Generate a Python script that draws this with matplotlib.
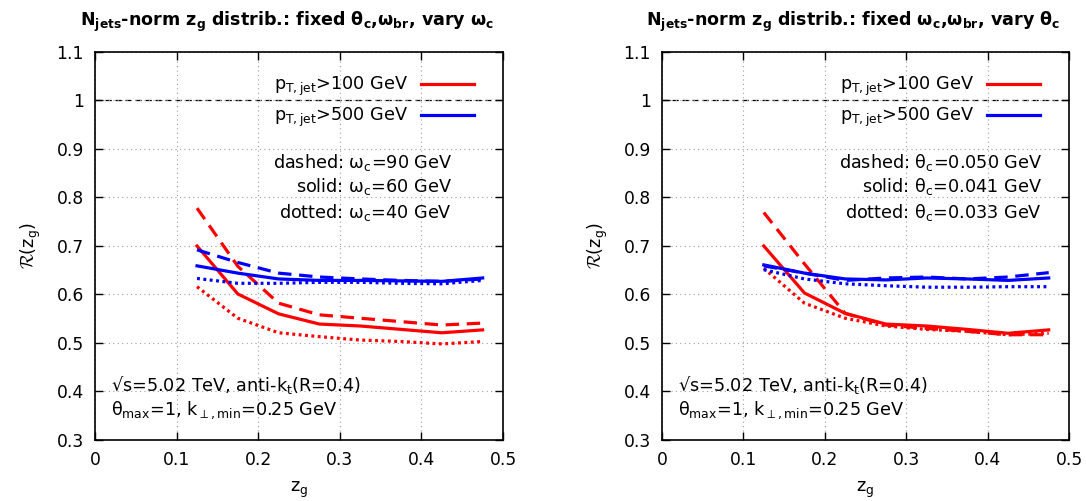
import matplotlib
matplotlib.use('Agg')
import matplotlib.pyplot as plt
from matplotlib.ticker import FuncFormatter

plt.rcParams['font.family'] = 'DejaVu Sans'
plt.rcParams['font.size'] = 12
plt.rcParams['mathtext.fontset'] = 'dejavusans'
plt.rcParams['mathtext.default'] = 'regular'

# z_g bin centres
zg = [0.125, 0.175, 0.225, 0.275, 0.325, 0.375, 0.425, 0.475]

# left panel: fixed theta_c, omega_br, vary omega_c
l_r100_dashed = [0.778, 0.658, 0.582, 0.558, 0.551, 0.544, 0.537, 0.541]
l_r100_solid = [0.700, 0.601, 0.560, 0.539, 0.535, 0.528, 0.521, 0.527]
l_r100_dotted = [0.616, 0.551, 0.521, 0.513, 0.506, 0.503, 0.498, 0.503]
l_b500_dashed = [0.692, 0.666, 0.644, 0.636, 0.632, 0.629, 0.627, 0.632]
l_b500_solid = [0.659, 0.644, 0.632, 0.629, 0.629, 0.628, 0.627, 0.634]
l_b500_dotted = [0.633, 0.623, 0.623, 0.625, 0.625, 0.623, 0.622, 0.629]

# right panel: fixed omega_c, omega_br, vary theta_c
r_r100_dashed = [0.769, 0.663, 0.561, 0.537, 0.530, 0.524, 0.517, 0.517]
r_r100_solid = [0.700, 0.603, 0.561, 0.539, 0.535, 0.528, 0.520, 0.527]
r_r100_dotted = [0.654, 0.582, 0.551, 0.535, 0.528, 0.524, 0.517, 0.520]
r_b500_dashed = [0.659, 0.644, 0.629, 0.634, 0.636, 0.632, 0.636, 0.645]
r_b500_solid = [0.661, 0.644, 0.632, 0.630, 0.634, 0.632, 0.629, 0.634]
r_b500_dotted = [0.651, 0.632, 0.622, 0.618, 0.615, 0.615, 0.616, 0.616]

left_labels = ['dashed: $\\omega_c$=90 GeV', 'solid: $\\omega_c$=60 GeV', 'dotted: $\\omega_c$=40 GeV']
right_labels = ['dashed: $\\theta_c$=0.050 GeV', 'solid: $\\theta_c$=0.041 GeV', 'dotted: $\\theta_c$=0.033 GeV']

titles = [r'$\mathbf{N_{jets}}$-norm $\mathbf{z_g}$ distrib.: fixed $\mathbf{\theta_c}$,$\mathbf{\omega_{br}}$, vary $\mathbf{\omega_c}$',
          r'$\mathbf{N_{jets}}$-norm $\mathbf{z_g}$ distrib.: fixed $\mathbf{\omega_c}$,$\mathbf{\omega_{br}}$, vary $\mathbf{\theta_c}$']

RED = '#ff0000'
BLUE = '#0000ff'
LW = 2.3
DASH = (4.2, 2.4)
DOT = (0.9, 1.1)
FS = 12.7

fig = plt.figure(figsize=(10.86, 5.01), dpi=100)
ax1 = fig.add_axes([0.0875, 0.1218, 0.3757, 0.7745])
ax2 = fig.add_axes([0.6096, 0.1218, 0.3748, 0.7745])

panels = [
    (ax1, l_r100_dashed, l_r100_solid, l_r100_dotted, l_b500_dashed, l_b500_solid, l_b500_dotted, left_labels, titles[0], 0.4375),
    (ax2, r_r100_dashed, r_r100_solid, r_r100_dotted, r_b500_dashed, r_b500_solid, r_b500_dotted, right_labels, titles[1], 0.4668),
]

for ax, rd, rs, rdo, bd, bs, bdo, labs, title, xr in panels:
    ax.axhline(1.0, color='black', lw=0.9, dashes=(5, 3), zorder=1)
    h1, = ax.plot(zg, rs, color=RED, lw=LW, label='p$_{T,jet}$>100 GeV')
    ax.plot(zg, rd, color=RED, lw=LW, dashes=DASH)
    ax.plot(zg, rdo, color=RED, lw=LW, dashes=DOT)
    h2, = ax.plot(zg, bs, color=BLUE, lw=LW, label='p$_{T,jet}$>500 GeV')
    ax.plot(zg, bd, color=BLUE, lw=LW, dashes=DASH)
    ax.plot(zg, bdo, color=BLUE, lw=LW, dashes=DOT)

    ax.set_xlim(0, 0.5)
    ax.set_ylim(0.3, 1.1)
    ax.set_xticks([0, 0.1, 0.2, 0.3, 0.4, 0.5])
    ax.set_yticks([0.3, 0.4, 0.5, 0.6, 0.7, 0.8, 0.9, 1.0, 1.1])
    fmt = FuncFormatter(lambda v, p: '%g' % round(v, 3))
    ax.xaxis.set_major_formatter(fmt)
    ax.yaxis.set_major_formatter(fmt)
    ax.tick_params(direction='in', top=True, right=True, length=6, width=1, labelsize=12.3, pad=8)
    ax.grid(True, color='#a0a0a0', lw=0.8, ls=(0, (1, 3)))
    for s in ax.spines.values():
        s.set_linewidth(1.2)

    ax.legend(handles=[h1, h2], loc='upper right', bbox_to_anchor=(0.945, 0.96),
              frameon=False, markerfirst=False, handlelength=3.0, handletextpad=0.7,
              labelspacing=0.45, borderaxespad=0, fontsize=FS)

    for lab, yv in zip(labs, [0.873, 0.822, 0.770]):
        ax.text(xr, yv, lab, ha='right', va='center', fontsize=FS)
    ax.text(0.0196, 0.413, '√s=5.02 TeV, anti-k$_t$(R=0.4)', ha='left', va='center', fontsize=FS)
    ax.text(0.0196, 0.362, '$\\theta_{max}$=1, k$_{\\perp,min}$=0.25 GeV', ha='left', va='center', fontsize=FS)

    ax.set_title(title, fontsize=12.6, fontweight='bold', pad=19, x=0.47)
    ax.set_xlabel('z$_g$', fontsize=FS, labelpad=8)
    ax.set_ylabel(r'$\mathcal{R}$(z$_\mathregular{g}$)', fontsize=FS, math_fontfamily='cm', labelpad=10)

fig.savefig('out.png', dpi=100)
